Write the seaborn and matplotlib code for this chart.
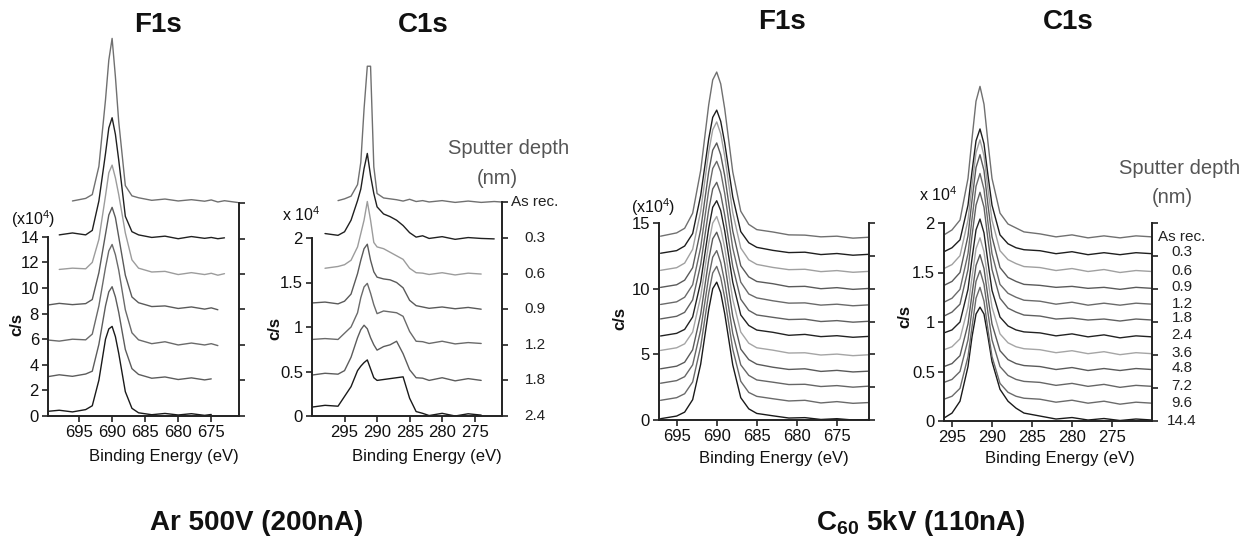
import numpy as np
import pandas as pd
import matplotlib
matplotlib.use("Agg")
import matplotlib.pyplot as plt
import matplotlib.transforms as mtransforms
import seaborn as sns

N = np.nan

# ---------------- data ----------------
ar_depths = ["2.4", "1.8", "1.2", "0.9", "0.6", "0.3", "As rec."]          # bottom -> top
c60_depths = ["14.4", "9.6", "7.2", "4.8", "3.6", "2.4", "1.8", "1.2",
              "0.9", "0.6", "0.3", "As rec."]                                # bottom -> top

# Ar 500 V, F1s  (counts x1e4)
ar_f1s_energy = [700, 698, 696, 694, 693, 692, 691, 690.5, 690, 689.5, 689, 688,
                 687, 686, 684, 682, 680, 678, 676, 675, 674, 673, 671]
ar_f1s_24 = [0.35, 0.45, 0.32, 0.5, 0.8, 2.8, 6.0, 6.8, 7.0, 6.2, 4.9, 1.9, 0.6, 0.25, 0.1, 0.2, 0.08, 0.18, 0.05, 0.12, N, N, N]
ar_f1s_18 = [3.05, 3.22, 3.1, 3.28, 3.5, 5.6, 8.6, 9.7, 10.1, 9.3, 8.1, 5.2, 3.7, 3.25, 2.95, 3.05, 2.85, 2.98, 2.82, 2.9, N, N, N]
ar_f1s_12 = [5.95, 5.85, 6.0, 5.95, 6.4, 8.6, 11.6, 12.9, 13.4, 12.6, 11.4, 8.3, 6.5, 5.95, 5.65, 5.8, 5.55, 5.7, 5.55, 5.65, 5.5, N, N]
ar_f1s_09 = [8.65, 8.8, 8.7, 8.78, 9.1, 11.2, 14.2, 15.7, 16.3, 15.5, 14.0, 11.0, 9.3, 8.85, 8.55, 8.6, 8.4, 8.52, 8.35, 8.45, 8.3, N, N]
ar_f1s_06 = [N, 11.45, 11.55, 11.5, 12.0, 13.8, 17.2, 19.0, 19.6, 18.6, 17.3, 14.3, 12.2, 11.55, 11.25, 11.3, 11.05, 11.2, 11.05, 11.15, 11.0, 11.12, N]
ar_f1s_03 = [N, 14.15, 14.3, 14.15, 14.5, 16.8, 20.5, 22.5, 23.3, 22.0, 20.0, 15.6, 14.4, 14.15, 13.95, 14.05, 13.85, 14.02, 13.88, 13.95, 13.85, 13.92, N]
ar_f1s_asrec = [N, N, 16.8, 17.0, 17.3, 19.5, 24.7, 27.8, 29.5, 26.5, 23.0, 18.0, 17.2, 17.05, 16.85, 16.95, 16.8, 16.9, 16.78, 16.88, 16.72, 16.82, 16.68]

# Ar 500 V, C1s  (counts x1e4)
ar_c1s_energy = [300, 298, 296, 295, 294, 293, 292.5, 292, 291.5, 291, 290.5, 290, 289,
                 288, 287, 286, 285, 284, 283, 282, 280, 278, 276, 274, 272, 270]
ar_c1s_24 = [0.1, 0.12, 0.11, 0.22, 0.33, 0.51, 0.56, 0.6, 0.63, 0.53, 0.43, 0.4, 0.41, 0.42, 0.43, 0.44, 0.2, 0.05, 0.03, 0.005, 0.03, 0.0, 0.025, 0.01, N, N]
ar_c1s_18 = [0.46, 0.48, 0.47, 0.51, 0.66, 0.88, 0.97, 1.02, 0.98, 0.88, 0.8, 0.74, 0.78, 0.8, 0.84, 0.7, 0.52, 0.43, 0.425, 0.4, 0.43, 0.395, 0.42, 0.4, N, N]
ar_c1s_12 = [0.86, 0.87, 0.86, 0.93, 1.0, 1.16, 1.33, 1.45, 1.49, 1.38, 1.25, 1.15, 1.18, 1.17, 1.16, 1.12, 0.95, 0.84, 0.835, 0.815, 0.84, 0.81, 0.825, 0.815, N, N]
ar_c1s_09 = [1.27, 1.28, 1.26, 1.29, 1.37, 1.6, 1.75, 1.88, 1.93, 1.75, 1.62, 1.56, 1.54, 1.53, 1.5, 1.44, 1.3, 1.24, 1.225, 1.21, 1.225, 1.205, 1.22, 1.2, N, N]
ar_c1s_06 = [N, 1.66, 1.68, 1.7, 1.75, 1.9, 2.05, 2.2, 2.41, 2.2, 1.95, 1.9, 1.88, 1.84, 1.8, 1.76, 1.66, 1.61, 1.605, 1.59, 1.61, 1.585, 1.605, 1.595, N, N]
ar_c1s_03 = [N, 2.05, 2.03, 2.07, 2.2, 2.42, 2.55, 2.78, 2.95, 2.7, 2.5, 2.35, 2.27, 2.24, 2.2, 2.14, 2.06, 2.01, 2.025, 1.995, 2.015, 1.985, 2.005, 1.995, 1.99, N]
ar_c1s_asrec = [N, N, 2.42, 2.44, 2.47, 2.6, 2.85, 3.45, 3.93, 3.93, 2.8, 2.5, 2.45, 2.44, 2.43, 2.415, 2.435, 2.41, 2.42, 2.405, 2.42, 2.4, 2.415, 2.4, 2.41, 2.4]

# C60 5 kV, F1s  (counts x1e4)
c60_f1s_energy = [697, 695, 694, 693, 692, 691, 690.5, 690, 689.5, 689, 688, 687,
                  686, 685, 683, 681, 679, 677, 675, 673, 671]
c60_f1s_144 = [0.1, 0.3, 0.6, 1.55, 4.25, 8.4, 10.0, 10.5, 9.7, 8.1, 4.2, 1.7, 0.85, 0.5, 0.32, 0.15, 0.18, 0.04, 0.1, 0.0, 0.03]
c60_f1s_96 = [1.5, 1.7, 2.0, 2.9, 5.6, 9.65, 11.2, 11.7, 10.85, 9.3, 5.4, 2.95, 2.1, 1.8, 1.62, 1.45, 1.5, 1.3, 1.4, 1.27, 1.33]
c60_f1s_72 = [2.8, 3.0, 3.3, 4.2, 6.85, 10.9, 12.4, 12.9, 12.0, 10.5, 6.6, 4.2, 3.4, 3.05, 2.88, 2.7, 2.72, 2.55, 2.62, 2.5, 2.58]
c60_f1s_48 = [3.9, 4.1, 4.4, 5.35, 8.05, 12.2, 13.8, 14.3, 13.45, 11.9, 7.9, 5.4, 4.6, 4.25, 4.02, 3.85, 3.9, 3.7, 3.78, 3.66, 3.72]
c60_f1s_36 = [5.3, 5.5, 5.8, 6.7, 9.4, 13.45, 15.0, 15.5, 14.6, 13.1, 9.2, 6.7, 5.85, 5.5, 5.32, 5.1, 5.12, 4.95, 5.02, 4.9, 4.97]
c60_f1s_24 = [6.4, 6.6, 6.9, 7.85, 10.5, 14.6, 16.2, 16.7, 15.95, 14.4, 10.5, 8.0, 7.2, 6.85, 6.68, 6.45, 6.52, 6.35, 6.42, 6.3, 6.37]
c60_f1s_18 = [7.7, 7.9, 8.2, 9.15, 11.85, 16.0, 17.6, 18.1, 17.2, 15.6, 11.7, 9.2, 8.35, 8.0, 7.82, 7.65, 7.68, 7.5, 7.57, 7.45, 7.52]
c60_f1s_12 = [8.8, 9.0, 9.35, 10.3, 13.15, 17.5, 19.15, 19.7, 18.9, 17.25, 13.1, 10.5, 9.6, 9.3, 9.08, 8.9, 8.92, 8.75, 8.82, 8.7, 8.77]
c60_f1s_09 = [10.1, 10.3, 10.65, 11.6, 14.5, 18.9, 20.55, 21.1, 20.2, 18.6, 14.4, 11.75, 10.9, 10.55, 10.38, 10.15, 10.18, 10.0, 10.08, 9.95, 10.02]
c60_f1s_06 = [11.4, 11.6, 11.95, 13.0, 15.9, 20.4, 22.1, 22.7, 21.8, 20.1, 15.8, 13.1, 12.2, 11.85, 11.62, 11.45, 11.48, 11.3, 11.38, 11.25, 11.32]
c60_f1s_03 = [12.7, 12.9, 13.25, 14.2, 17.1, 21.4, 23.05, 23.6, 22.75, 21.1, 17.0, 14.35, 13.5, 13.15, 12.92, 12.75, 12.78, 12.6, 12.68, 12.55, 12.62]
c60_f1s_asrec = [14.0, 14.25, 14.6, 15.75, 19.0, 24.0, 25.9, 26.5, 25.6, 23.7, 18.9, 15.9, 14.9, 14.5, 14.32, 14.1, 14.08, 13.95, 14.0, 13.85, 13.92]

# C60 5 kV, C1s  (counts x1e4)
c60_c1s_energy = [296, 295, 294, 293, 292.5, 292, 291.5, 291, 290.5, 290, 289, 288,
                  287, 286, 284, 282, 280, 278, 276, 274, 272, 270]
c60_c1s_144 = [0.03, 0.08, 0.2, 0.55, 0.85, 1.08, 1.15, 1.08, 0.85, 0.6, 0.32, 0.2, 0.13, 0.08, 0.05, 0.02, 0.035, 0.01, 0.025, 0.005, 0.02, 0.01]
c60_c1s_96 = [0.22, 0.25, 0.33, 0.65, 0.95, 1.24, 1.35, 1.21, 0.92, 0.65, 0.38, 0.29, 0.25, 0.23, 0.22, 0.19, 0.21, 0.18, 0.2, 0.17, 0.19, 0.18]
c60_c1s_72 = [0.39, 0.42, 0.5, 0.82, 1.12, 1.41, 1.52, 1.38, 1.09, 0.82, 0.55, 0.46, 0.42, 0.4, 0.39, 0.36, 0.38, 0.35, 0.37, 0.34, 0.36, 0.35]
c60_c1s_48 = [0.55, 0.58, 0.66, 0.98, 1.28, 1.57, 1.68, 1.54, 1.25, 0.98, 0.71, 0.62, 0.58, 0.56, 0.55, 0.52, 0.54, 0.51, 0.53, 0.51, 0.53, 0.52]
c60_c1s_36 = [0.72, 0.75, 0.83, 1.15, 1.45, 1.74, 1.85, 1.71, 1.42, 1.15, 0.88, 0.79, 0.75, 0.73, 0.72, 0.69, 0.71, 0.68, 0.7, 0.67, 0.69, 0.68]
c60_c1s_24 = [0.89, 0.92, 1.0, 1.33, 1.64, 1.93, 2.04, 1.9, 1.6, 1.32, 1.05, 0.96, 0.92, 0.9, 0.89, 0.86, 0.88, 0.85, 0.87, 0.84, 0.86, 0.85]
c60_c1s_18 = [1.06, 1.1, 1.18, 1.53, 1.87, 2.18, 2.31, 2.16, 1.83, 1.53, 1.24, 1.14, 1.1, 1.07, 1.06, 1.03, 1.04, 1.02, 1.03, 1.01, 1.03, 1.02]
c60_c1s_12 = [1.2, 1.24, 1.33, 1.69, 2.04, 2.37, 2.5, 2.34, 2.0, 1.69, 1.38, 1.29, 1.25, 1.22, 1.21, 1.18, 1.2, 1.17, 1.19, 1.17, 1.19, 1.18]
c60_c1s_09 = [1.37, 1.41, 1.5, 1.87, 2.23, 2.56, 2.69, 2.53, 2.18, 1.86, 1.55, 1.45, 1.41, 1.38, 1.37, 1.35, 1.36, 1.34, 1.35, 1.33, 1.35, 1.34]
c60_c1s_06 = [1.54, 1.58, 1.67, 2.03, 2.38, 2.71, 2.84, 2.68, 2.34, 2.03, 1.72, 1.63, 1.59, 1.56, 1.55, 1.52, 1.54, 1.51, 1.53, 1.5, 1.52, 1.51]
c60_c1s_03 = [1.71, 1.75, 1.83, 2.18, 2.52, 2.83, 2.95, 2.8, 2.48, 2.18, 1.88, 1.79, 1.75, 1.73, 1.72, 1.69, 1.71, 1.68, 1.7, 1.68, 1.7, 1.69]
c60_c1s_asrec = [1.88, 1.93, 2.03, 2.45, 2.85, 3.23, 3.38, 3.2, 2.81, 2.45, 2.1, 1.99, 1.95, 1.91, 1.89, 1.86, 1.88, 1.85, 1.87, 1.85, 1.87, 1.86]

# axis ticks / labels
energy_ticks_f1s = [695, 690, 685, 680, 675]
energy_ticks_c1s = [295, 290, 285, 280, 275]
ar_f1s_yticks = [0, 2, 4, 6, 8, 10, 12, 14]
c1s_yticks = [0, 0.5, 1, 1.5, 2]
c1s_yticklabels = ["0", "0.5", "1", "1.5", "2"]
c60_f1s_yticks = [0, 5, 10, 15]
ar_f1s_right_ticks = [0, 2.8, 5.55, 8.35, 11.1, 13.85, 16.65]
ar_c1s_right_ticks = [0, 0.4, 0.8, 1.2, 1.6, 2.0, 2.4]
c60_f1s_right_ticks = [0, 2.5, 5, 7.5, 10, 12.5, 15]
c60_c1s_right_ticks = [0, 0.333, 0.667, 1.0, 1.333, 1.667, 2.0]
ar_label_pos = [0, 0.4, 0.8, 1.2, 1.6, 2.0, 2.4]
c60_label_pos = [0.0, 0.18, 0.35, 0.54, 0.69, 0.87, 1.04, 1.18, 1.35, 1.52, 1.71, 1.86]

ar_colors = ["#1a1a1a", "#5c5c5c", "#6a6a6a", "#5a5a5a", "#9c9c9c", "#202020", "#707070"]
c60_colors = ["#1a1a1a", "#6a6a6a", "#666666", "#5a5a5a", "#a5a5a5", "#222222",
              "#606060", "#6a6a6a", "#5a5a5a", "#a0a0a0", "#1e1e1e", "#707070"]

# ---------------- style ----------------
sns.set_theme(style="ticks")
plt.rcParams["font.family"] = ["Liberation Sans", "DejaVu Sans"]
plt.rcParams["mathtext.fontset"] = "custom"
plt.rcParams["mathtext.rm"] = "Liberation Sans"
plt.rcParams["mathtext.it"] = "Liberation Sans:italic"
plt.rcParams["mathtext.bf"] = "Liberation Sans:bold"

W, H = 1248, 542
fig = plt.figure(figsize=(W / 100, H / 100), dpi=100)


def px(x, y):
    return x / W, 1 - y / H


def make_axes(x0, x1, y_zero, y_top):
    return fig.add_axes([x0 / W, 1 - y_zero / H, (x1 - x0) / W, (y_zero - y_top) / H])


def panel(ax, energy, spectra, depths, colors, xlim, ytop, yticks, yticklabels,
          left_top, right_top, right_ticks, xticks):
    rows = []
    for d, vals in zip(depths, spectra):
        for e, v in zip(energy, vals):
            rows.append((e, v, d))
    df = pd.DataFrame(rows, columns=["energy", "counts", "depth"]).dropna()
    sns.lineplot(data=df, x="energy", y="counts", hue="depth", hue_order=depths,
                 palette=colors, estimator=None, sort=False, legend=False,
                 linewidth=1.0, ax=ax)
    ax.set_xlim(*xlim)
    ax.set_ylim(0, ytop)
    ax.set_xlabel("")
    ax.set_ylabel("")
    ax.set_xticks(xticks)
    ax.set_xticklabels([str(t) for t in xticks])
    ax.set_yticks(yticks)
    ax.set_yticklabels(yticklabels)
    for s in ["top", "right"]:
        ax.spines[s].set_visible(False)
    ax.spines["left"].set_bounds(0, left_top)
    for s in ["left", "bottom"]:
        ax.spines[s].set_linewidth(1.4)
        ax.spines[s].set_color("#222222")
    ax.tick_params(axis="both", direction="out", length=4.5, width=1.2,
                   color="#222222", labelcolor="#111111", labelsize=12, pad=2)
    ax.patch.set_alpha(0)

    ax2 = ax.twinx()
    ax2.set_ylim(0, ytop)
    for s in ["top", "left", "bottom"]:
        ax2.spines[s].set_visible(False)
    ax2.spines["right"].set_bounds(0, right_top)
    ax2.spines["right"].set_linewidth(1.4)
    ax2.spines["right"].set_color("#222222")
    ax2.set_yticks(right_ticks)
    ax2.set_yticklabels([])
    ax2.tick_params(axis="y", direction="out", length=4.5, width=1.2, color="#222222")
    ax2.grid(False)
    return ax2


# ---------------- panels ----------------
ax1 = make_axes(48, 239, 416, 30)
panel(ax1, ar_f1s_energy,
      [ar_f1s_24, ar_f1s_18, ar_f1s_12, ar_f1s_09, ar_f1s_06, ar_f1s_03, ar_f1s_asrec],
      ar_depths, ar_colors, (699.7, 670.8), (416 - 30) / 12.8,
      ar_f1s_yticks, [str(t) for t in ar_f1s_yticks], 14, 16.65,
      ar_f1s_right_ticks, energy_ticks_f1s)

ax2 = make_axes(312, 502, 416, 30)
panel(ax2, ar_c1s_energy,
      [ar_c1s_24, ar_c1s_18, ar_c1s_12, ar_c1s_09, ar_c1s_06, ar_c1s_03, ar_c1s_asrec],
      ar_depths, ar_colors, (300, 270.8), (416 - 30) / 89.0,
      c1s_yticks, c1s_yticklabels, 2, 2.4, ar_c1s_right_ticks, energy_ticks_c1s)

ax3 = make_axes(659, 869, 420, 30)
panel(ax3, c60_f1s_energy,
      [c60_f1s_144, c60_f1s_96, c60_f1s_72, c60_f1s_48, c60_f1s_36, c60_f1s_24,
       c60_f1s_18, c60_f1s_12, c60_f1s_09, c60_f1s_06, c60_f1s_03, c60_f1s_asrec],
      c60_depths, c60_colors, (697.2, 671), (420 - 30) / 13.13,
      c60_f1s_yticks, [str(t) for t in c60_f1s_yticks], 15, 15,
      c60_f1s_right_ticks, energy_ticks_f1s)

ax4 = make_axes(944, 1152, 421, 30)
panel(ax4, c60_c1s_energy,
      [c60_c1s_144, c60_c1s_96, c60_c1s_72, c60_c1s_48, c60_c1s_36, c60_c1s_24,
       c60_c1s_18, c60_c1s_12, c60_c1s_09, c60_c1s_06, c60_c1s_03, c60_c1s_asrec],
      c60_depths, c60_colors, (296, 270), (421 - 30) / 99.0,
      c1s_yticks, c1s_yticklabels, 2, 2, c60_c1s_right_ticks, energy_ticks_c1s)

# ---------------- texts ----------------
for (x, y, t) in [(158, 25, "F1s"), (423, 25, "C1s"), (782, 22, "F1s"), (1068, 22, "C1s")]:
    fig.text(*px(x, y), t, ha="center", va="center", fontsize=20, fontweight="bold",
             color="#111111")

for (x, y) in [(17, 325), (275, 328), (620, 318), (905, 317)]:
    fig.text(*px(x, y), "c/s", ha="center", va="center", rotation=90, fontsize=12,
             fontweight="bold", color="#111111")

fig.text(*px(11, 219), "(x10$^4$)", ha="left", va="center", fontsize=11.5, color="#111111")
fig.text(*px(282, 215), "x 10$^4$", ha="left", va="center", fontsize=11.5, color="#111111")
fig.text(*px(631, 207), "(x10$^4$)", ha="left", va="center", fontsize=11.5, color="#111111")
fig.text(*px(919, 195), "x 10$^4$", ha="left", va="center", fontsize=11.5, color="#111111")

for (x, y) in [(164, 456), (427, 456), (774, 459), (1060, 459)]:
    fig.text(*px(x, y), "Binding Energy (eV)", ha="center", va="center", fontsize=12,
             color="#111111")

fig.text(*px(509, 148), "Sputter depth", ha="center", va="center", fontsize=14.5, color="#555555")
fig.text(*px(497, 178), "(nm)", ha="center", va="center", fontsize=14.5, color="#555555")
fig.text(*px(1180, 168), "Sputter depth", ha="center", va="center", fontsize=14.5, color="#555555")
fig.text(*px(1172, 198), "(nm)", ha="center", va="center", fontsize=14.5, color="#555555")

tr2 = mtransforms.blended_transform_factory(fig.transFigure, ax2.transData)
for d, yv in zip(ar_depths, ar_label_pos):
    ax2.text(535 / W, yv, d, transform=tr2, ha="center", va="center", fontsize=11,
             color="#222222")
tr4 = mtransforms.blended_transform_factory(fig.transFigure, ax4.transData)
for d, yv in zip(c60_depths, c60_label_pos):
    ax4.text(1182 / W, yv, d, transform=tr4, ha="center", va="center", fontsize=11,
             color="#222222")

fig.text(*px(257, 523), "Ar 500V (200nA)", ha="center", va="center", fontsize=20,
         fontweight="bold", color="#111111")
fig.text(*px(921, 523), "C$_{\\mathbf{60}}$ 5kV (110nA)", ha="center", va="center",
         fontsize=20, fontweight="bold", color="#111111")

fig.savefig("out.png", dpi=100)
